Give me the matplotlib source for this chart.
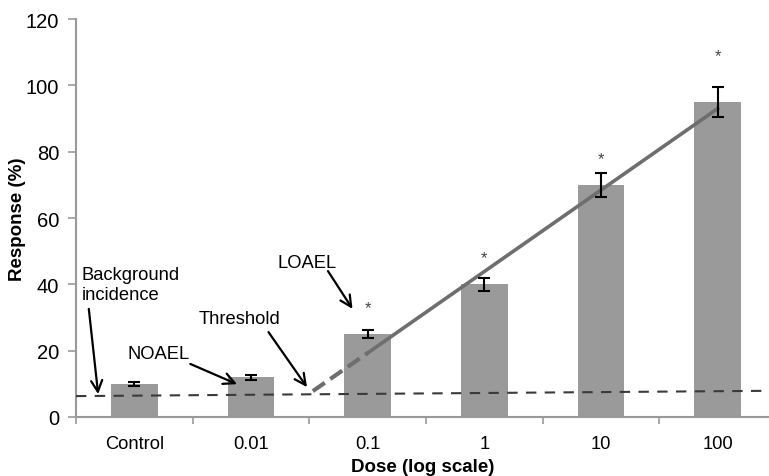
import numpy as np
import matplotlib.pyplot as plt

plt.rcParams['font.family'] = ['Liberation Sans', 'DejaVu Sans']

# data
doses = ['Control', '0.01', '0.1', '1', '10', '100']
response = [10, 12, 25, 40, 70, 95]
err = [0.7, 0.8, 1.3, 2.0, 3.6, 4.6]
star_y = [None, None, 33, 48, 78, 109]   # heights of the "*" marks

# background incidence line (x in category units)
bg_x = [-0.5, 5.45]
bg_y = [6.3, 7.9]

# dose-response trend: dashed extrapolation then fitted part
trend_dash_x = [1.53, 2.0]
trend_dash_y = [7.8, 19.3]
trend_x = [2.0, 5.0]
trend_y = [19.3, 93.0]

# labels: (text, text position, arrow start, arrow tip)
labels = [
    ('Background\nincidence', (-0.45, 40.0), (-0.39, 32.6), (-0.31, 6.9)),
    ('NOAEL', (0.21, 19.0), (0.48, 16.0), (0.88, 9.9)),
    ('Threshold', (0.90, 29.8), (1.15, 25.6), (1.48, 9.0)),
    ('LOAEL', (1.48, 46.7), (1.66, 44.0), (1.87, 32.6)),
]

fig = plt.figure(figsize=(7.69, 4.77), dpi=100)
ax = fig.add_axes([0.0988, 0.1237, 0.9012, 0.8343])

x = np.arange(len(doses))
ax.bar(x, response, width=0.4, color='#9a9a9a', zorder=2)
ax.errorbar(x, response, yerr=err, fmt='none', ecolor='black',
            elinewidth=1.5, capsize=4, capthick=1.5, zorder=4)

for xi, sy in zip(x, star_y):
    if sy is not None:
        ax.text(xi, sy, '*', ha='center', va='center',
                fontsize=12, color='#444444')

ax.plot(bg_x, bg_y, ls=(0, (5, 4)), color='#3a3a3a', lw=1.5, zorder=3)
ax.plot(trend_dash_x, trend_dash_y, ls=(0, (3.5, 1.6)), color='#6e6e6e',
        lw=3.0, zorder=3)
ax.plot(trend_x, trend_y, color='#6e6e6e', lw=2.6, zorder=3)

for txt, pos, start, tip in labels:
    if '\n' in txt:
        ax.text(pos[0], pos[1], txt, ha='left', va='center', fontsize=13.2,
                linespacing=1.25)
    else:
        ax.text(pos[0], pos[1], txt, ha='center', va='center', fontsize=13.2)
    ax.annotate('', xy=tip, xytext=start,
                arrowprops=dict(arrowstyle='->', color='black', lw=1.6,
                                mutation_scale=20, shrinkA=0, shrinkB=0))

ax.set_xlim(-0.5, 5.44)
ax.set_ylim(0, 120)
ax.set_yticks(np.arange(0, 121, 20))
ax.set_xticks(x)
ax.set_xticklabels(doses)
ax.set_xticks(np.arange(-0.5, 5.5, 1), minor=True)
ax.tick_params(axis='x', which='major', length=0, pad=13, labelsize=13.2)
ax.tick_params(axis='x', which='minor', length=5, color='#999999', width=1.2)
ax.tick_params(axis='y', length=6, pad=6, color='#999999', width=1.2,
               labelsize=14.5)

for side in ['top', 'right']:
    ax.spines[side].set_visible(False)
for side in ['left', 'bottom']:
    ax.spines[side].set_color('#999999')
    ax.spines[side].set_linewidth(1.5)

ax.set_ylabel('Response (%)', fontsize=13.5, fontweight='bold')
ax.yaxis.set_label_coords(-0.072, 0.5)
ax.set_xlabel('Dose (log scale)', fontsize=13.5, fontweight='bold', labelpad=4)

fig.savefig('out.png', dpi=100)
